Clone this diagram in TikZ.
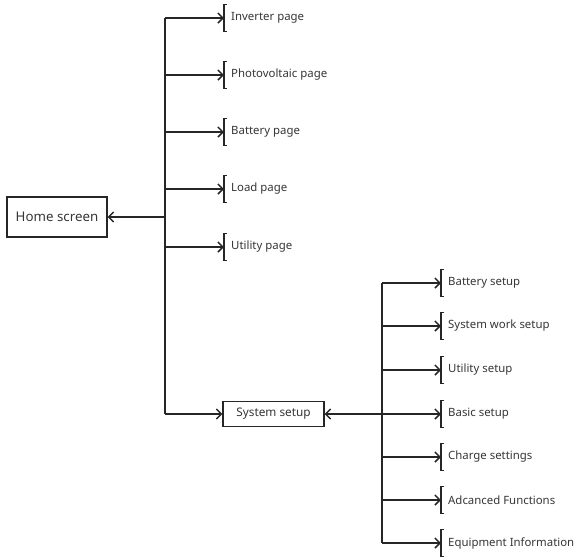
\documentclass[tikz,border=0pt]{standalone}
\usepackage{fontspec}
\setmainfont{Noto Sans}
\usetikzlibrary{arrows.meta}
\definecolor{ln}{HTML}{262626}
\definecolor{tx}{HTML}{363636}
\tikzset{
  conn/.style={draw=ln,line width=1.5pt,-{Straight Barb[length=5pt,width=10pt,line width=1.5pt]}},
  trunk/.style={draw=ln,line width=1.5pt},
  leaf/.style={anchor=west,inner xsep=7pt,inner ysep=0pt,minimum height=26pt,text=tx,font=\fontsize{11.4}{13}\selectfont},
  box/.style={draw=ln,line width=1.1pt,text=tx,inner sep=0pt},
  brk/.style={draw=ln,line width=1.1pt}
}
\begin{document}
\begin{tikzpicture}[x=1pt,y=-1pt]
\useasboundingbox (0,0) rectangle (575,558);
% main nodes
\node[box,minimum width=100pt,minimum height=40pt,font=\fontsize{13.3}{15}\selectfont] (home) at (57,217) {Home screen};
\node[box,minimum width=101pt,minimum height=25pt,font=\fontsize{11.8}{13}\selectfont] (sys) at (273.5,414) {System setup};
% first level leaves
\node[leaf] (p1) at (224,18) {Inverter page};
\node[leaf] (p2) at (224,75) {Photovoltaic page};
\node[leaf] (p3) at (224,132) {Battery page};
\node[leaf] (p4) at (224,189) {Load page};
\node[leaf] (p5) at (224,247) {Utility page};
% second level leaves
\node[leaf] (s1) at (441,283) {Battery setup};
\node[leaf] (s2) at (441,326) {System work setup};
\node[leaf] (s3) at (441,370) {Utility setup};
\node[leaf] (s4) at (441,414) {Basic setup};
\node[leaf] (s5) at (441,457) {Charge settings};
\node[leaf] (s6) at (441,500) {Adcanced Functions};
\node[leaf] (s7) at (441,543) {Equipment Information};
% trunks
\coordinate (t1top) at (165,18);
\coordinate (t1bot) at (165,414);
\coordinate (t2top) at (382,283);
\coordinate (t2bot) at (382,543);
\draw[trunk] (t1top) -- (t1bot);
\draw[trunk] (t2top) -- (t2bot);
% brackets
\foreach \n in {p1,p2,p3,p4,p5,s1,s2,s3,s4,s5,s6,s7}{
  \draw[brk] ([xshift=3pt]\n.north west) -- (\n.north west) -- (\n.south west) -- ([xshift=3pt]\n.south west);
}
% connectors
\foreach \n in {p1,p2,p3,p4,p5}{
  \draw[conn] (t1top |- \n.west) -- (\n.west);
}
\foreach \n in {s1,s2,s3,s4,s5,s6,s7}{
  \draw[conn] (t2top |- \n.west) -- (\n.west);
}
\draw[conn] (t1top |- home.east) -- (home.east);
\draw[conn] (t1bot) -- (sys.west);
\draw[conn] (t2top |- sys.east) -- (sys.east);
\end{tikzpicture}
\end{document}
